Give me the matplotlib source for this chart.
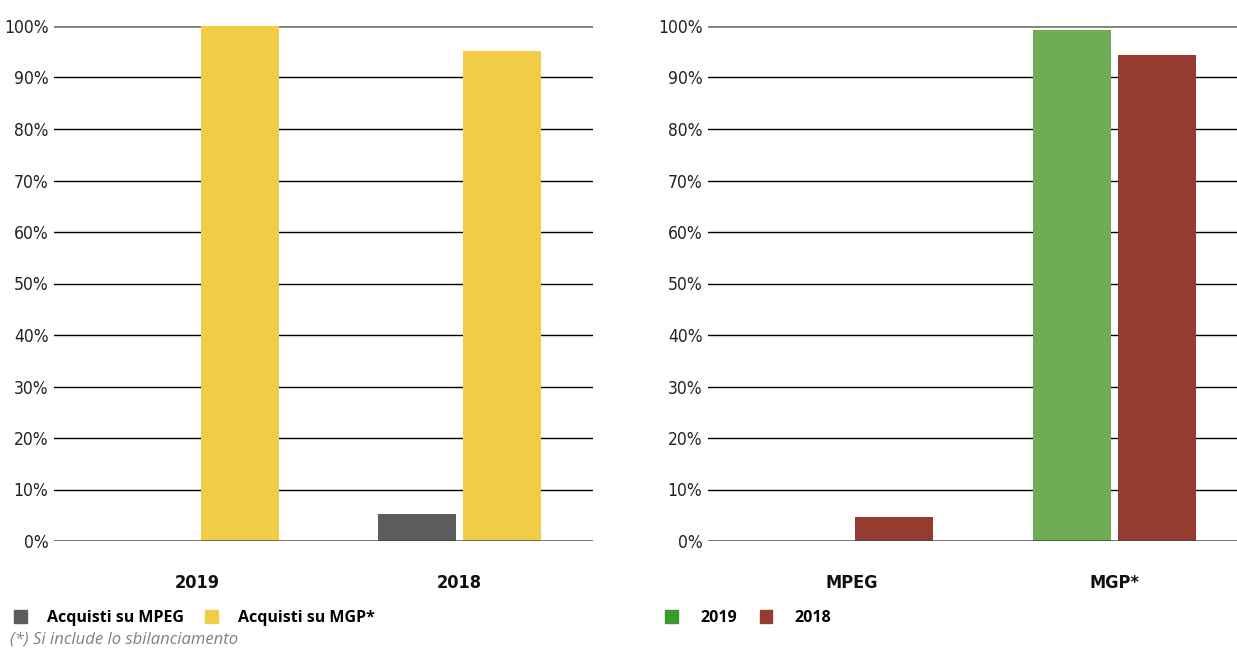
import matplotlib
matplotlib.use("Agg")
import numpy as np
from matplotlib import pyplot as plt
from matplotlib.patches import Patch

# left chart: share of purchases per year
years = ["2019", "2018"]
mpeg_share = [0, 5.2]
mgp_share = [100, 95.1]

# right chart: per market, 2019 vs 2018
markets = ["MPEG", "MGP*"]
vals_2019 = [0, 99.2]
vals_2018 = [4.7, 94.4]

GRAY = "#5b5c5e"
YELLOW = "#f1cc46"
GREEN = "#70ab55"
RED = "#943c2f"

plt.rcParams["font.family"] = ["Open Sans", "DejaVu Sans"]

fig = plt.figure(figsize=(12.37, 6.48), dpi=100)
W, H = 1237, 648


def make_axes(x0, x1):
    return fig.add_axes([x0 / W, 1 - 541 / H, (x1 - x0) / W, (541 - 26) / H])


def style(ax, labels):
    ax.set_ylim(0, 100)
    ax.set_yticks(np.arange(0, 101, 10))
    ax.set_yticklabels(["%d%%" % v for v in range(0, 101, 10)],
                       fontsize=12.5, family="DejaVu Sans", stretch="condensed",
                       color="#222222")
    ax.set_xticks(range(len(labels)))
    ax.set_xticklabels(labels, fontsize=13, family="DejaVu Sans",
                       stretch="condensed", fontweight="bold", color="#111111")
    ax.tick_params(axis="y", length=0, pad=4)
    ax.tick_params(axis="x", length=0, pad=24)
    for s in ax.spines.values():
        s.set_visible(False)
    for v in range(10, 100, 10):
        ax.axhline(v, color="black", lw=1, zorder=0)
    ax.axhline(100, color="#808080", lw=2, zorder=0)
    ax.axhline(0, color="#444444", lw=2, alpha=0.8, zorder=5)


bw = 0.298
off = 0.162

# left panel
ax1 = make_axes(54, 593)
x = np.arange(len(years))
ax1.bar(x - off, mpeg_share, bw, color=GRAY, zorder=2)
ax1.bar(x + off, mgp_share, bw, color=YELLOW, zorder=2)
ax1.set_xlim(-0.548, 1.510)
style(ax1, years)

# right panel
ax2 = make_axes(708, 1237)
x = np.arange(len(markets))
ax2.bar(x - off, vals_2019, bw, color=GREEN, zorder=2)
ax2.bar(x + off, vals_2018, bw, color=RED, zorder=2)
ax2.set_xlim(-0.546, 1.466)
style(ax2, markets)

fig.legend(handles=[Patch(color=GRAY, label="Acquisti su MPEG"),
                    Patch(color=YELLOW, label="Acquisti su MGP*")],
           loc="center left", bbox_to_anchor=(0 / W, 1 - 618 / H),
           ncol=2, frameon=False, handlelength=0.8, handleheight=0.8,
           handletextpad=1.23, columnspacing=1.35,
           prop={"size": 11.5, "weight": "bold"})
fig.legend(handles=[Patch(color="#3a9a2a", label="2019"),
                    Patch(color=RED, label="2018")],
           loc="center left", bbox_to_anchor=(651 / W, 1 - 618 / H),
           ncol=2, frameon=False, handlelength=0.8, handleheight=0.8,
           handletextpad=1.4, columnspacing=1.4,
           prop={"size": 11.5, "weight": "bold"})

fig.text(10 / W, 1 - 640 / H, "(*) Si include lo sbilanciamento",
         fontsize=12, style="italic", color="#808080", va="center")

fig.savefig("out.png", dpi=100)
